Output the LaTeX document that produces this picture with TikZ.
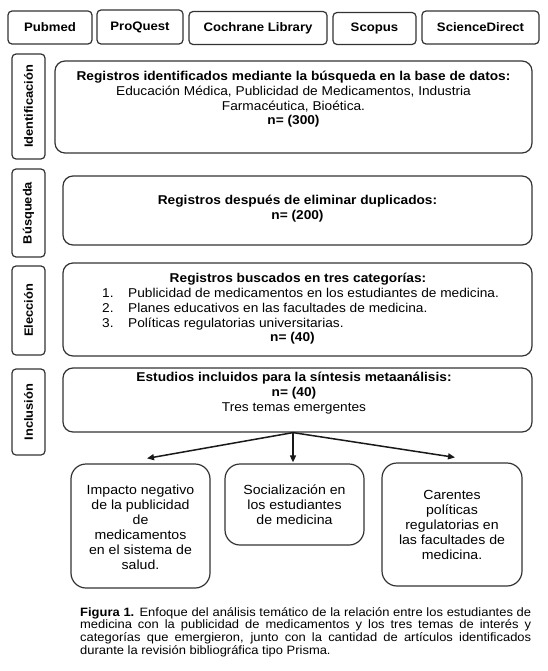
\documentclass[tikz,border=0pt]{standalone}
\usepackage{fontspec}
\setmainfont{Liberation Sans}[FakeStretch=1.07]
\usetikzlibrary{arrows.meta,calc}
\definecolor{ln}{HTML}{333333}
\tikzset{
  dbbox/.style={draw=ln, line width=1.2pt, rounded corners=4pt, font=\fontsize{12.3}{14}\selectfont\bfseries, inner sep=0pt},
  sidebox/.style={draw=ln, line width=1.2pt, rounded corners=4pt, minimum width=33pt, font=\fontsize{12}{14}\selectfont\bfseries, inner sep=0pt},
  mainbox/.style={draw=ln, line width=1.2pt, rounded corners=10pt, minimum width=469pt, inner sep=0pt},
  maintext/.style={align=center, font=\fontsize{12.8}{14.7}\selectfont, inner sep=0pt},
  themebox/.style={draw=ln, line width=1.2pt, rounded corners=15pt, minimum width=139pt, inner sep=0pt},
  themetext/.style={align=center, font=\fontsize{13.2}{15}\selectfont, inner sep=0pt},
  arr/.style={-{Triangle[length=7pt,width=6pt]}, line width=1.5pt, black!90},
}
\begin{document}
\begin{tikzpicture}[x=1pt,y=-1pt]
\useasboundingbox[fill=white] (0,0) rectangle (548,671);
% databases
\node[dbbox, minimum width=84pt, minimum height=33pt] (pub) at (50,27.5) {Pubmed};
\node[dbbox, minimum width=86pt, minimum height=34pt] (pro) at (140,27) {ProQuest};
\node[dbbox, minimum width=138pt, minimum height=33pt] (coc) at (258,28) {Cochrane Library};
\node[dbbox, minimum width=83pt, minimum height=32pt] (sco) at (374.5,28.5) {Scopus};
\node[dbbox, minimum width=117pt, minimum height=33pt] (sci) at (480.5,27.5) {ScienceDirect};
% side labels
\node[sidebox, minimum height=105pt] (s1) at (28.5,106.5) {\rotatebox{90}{Identificación}};
\node[sidebox, minimum height=88pt] (s2) at (28.5,213) {\rotatebox{90}{Búsqueda}};
\node[sidebox, minimum height=89pt] (s3) at (28.5,310.5) {\rotatebox{90}{Elección}};
\node[sidebox, minimum height=86pt] (s4) at (28.5,412) {\rotatebox{90}{Inclusión}};
% main boxes
\node[mainbox, minimum width=477pt, minimum height=92pt] (m1) at (293.5,107) {};
\node[maintext] (t1) at (293.5,99.5) {\textbf{Registros identificados mediante la búsqueda en la base de datos:}\\Educación Médica, Publicidad de Medicamentos, Industria\\Farmacéutica, Bioética.\\\textbf{n= (300)}};
\node[mainbox, minimum height=69pt] (m2) at (297.5,210.5) {};
\node[maintext] (t2) at (297.5,208.5) {\textbf{Registros después de eliminar duplicados:}\\\textbf{n= (200)}};
\node[mainbox, minimum height=93pt] (m3) at (297.5,309.5) {};
\node[maintext] (t3) at (298,279) {\textbf{Registros buscados en tres categorías:}};
\node[maintext, anchor=west, align=left, font=\fontsize{12.8}{15}\selectfont] (t3l) at (102,309) {\makebox[26pt][l]{1.}Publicidad de medicamentos en los estudiantes de medicina.\\\makebox[26pt][l]{2.}Planes educativos en las facultades de medicina.\\\makebox[26pt][l]{3.}Políticas regulatorias universitarias.};
\node[maintext] (t3n) at (292.5,338.5) {\textbf{n= (40)}};
\node[mainbox, minimum height=64pt] (m4) at (297.5,400) {};
\node[maintext, font=\fontsize{12.8}{15}\selectfont] (t4) at (294,393) {\textbf{Estudios incluidos para la síntesis metaanálisis:}\\\textbf{n= (40)}\\Tres temas emergentes};
% themes
\node[themebox, minimum height=124pt] (th1) at (140.5,526) {};
\node[themetext] (tt1) at (140.5,527.5) {Impacto negativo\\de la publicidad\\de\\medicamentos\\en el sistema de\\salud.};
\node[themebox, minimum height=81pt] (th2) at (294.5,504.5) {};
\node[themetext] (tt2) at (294.5,505) {Socialización en\\los estudiantes\\de medicina};
\node[themebox, minimum width=140pt, minimum height=123pt] (th3) at (452,524.5) {};
\node[themetext] (tt3) at (452,525) {Carentes\\políticas\\regulatorias en\\las facultades de\\medicina.};
% arrows
\coordinate (o) at ($(m4.south)+(-4.5,0)$);
\coordinate (c1) at ($(th1.north)+(6.5,-5)$);
\coordinate (c2) at ($(th2.north)+(-1.5,-1)$);
\coordinate (c3) at ($(th3.north)+(3,-5)$);
\draw[arr] (o) -- (c1);
\draw[arr] (o) -- (c2);
\draw[arr] (o) -- (c3);
% caption
\node[anchor=north west, inner sep=0pt, text width=451pt, align=justify, font=\fontsize{12.1}{12.8}\selectfont] (cap) at (80,607) {\textbf{Figura 1.} Enfoque del análisis temático de la relación entre los estudiantes de\linebreak medicina con la publicidad de medicamentos y los tres temas de interés y\linebreak categorías que emergieron, junto con la cantidad de artículos identificados\linebreak durante la revisión bibliográfica tipo Prisma.};
\end{tikzpicture}
\end{document}
